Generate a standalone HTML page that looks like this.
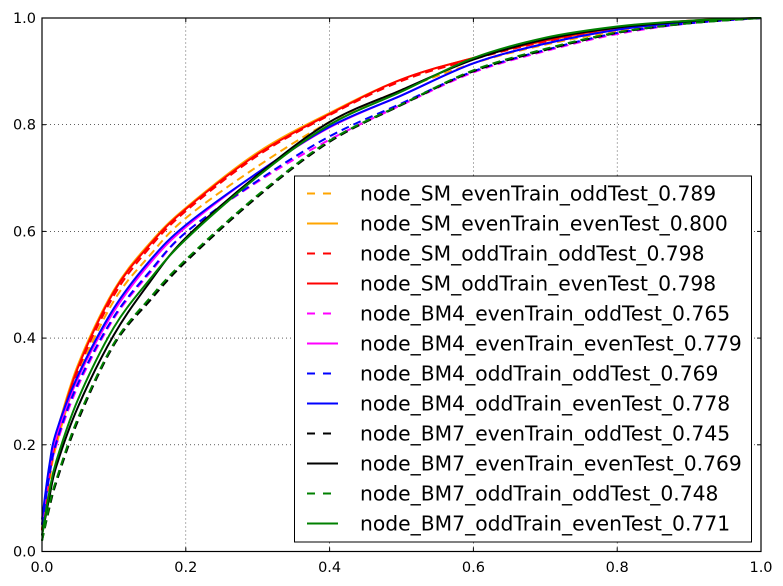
<!DOCTYPE html>
<html><head><meta charset="utf-8"><style>
html,body{margin:0;padding:0;background:#fff}
svg{display:block}
text{font-family:"DejaVu Sans","Liberation Sans",sans-serif}
</style></head><body>
<svg id="chart" width="783" height="586" viewBox="0 0 783 586" xmlns="http://www.w3.org/2000/svg">
<rect width="783" height="586" fill="#fff"/>
<g id="grid"></g>
<g id="series"></g>
<rect x="42" y="18" width="719" height="533.5" fill="none" stroke="#000" stroke-width="1.2"/>
<g id="ticks"></g>
<g id="legend"></g>
</svg>
<script>
const fprGrid = [0,0.01,0.02,0.05,0.1,0.15,0.2,0.3,0.4,0.5,0.6,0.7,0.8,0.9,1.0];
const seriesNames = [
 "node_SM_evenTrain_oddTest_0.789","node_SM_evenTrain_evenTest_0.800",
 "node_SM_oddTrain_oddTest_0.798","node_SM_oddTrain_evenTest_0.798",
 "node_BM4_evenTrain_oddTest_0.765","node_BM4_evenTrain_evenTest_0.779",
 "node_BM4_oddTrain_oddTest_0.769","node_BM4_oddTrain_evenTest_0.778",
 "node_BM7_evenTrain_oddTest_0.745","node_BM7_evenTrain_evenTest_0.769",
 "node_BM7_oddTrain_oddTest_0.748","node_BM7_oddTrain_evenTest_0.771"];
const seriesColors = ["orange","orange","red","red","magenta","magenta","blue","blue","black","black","green","green"];
const seriesDashed = [true,false,true,false,true,false,true,false,true,false,true,false];
const tprSMevenOdd  = [0.04,0.13,0.20,0.33,0.47,0.555,0.625,0.722,0.805,0.865,0.915,0.95,0.975,0.992,1];
const tprSMevenEven = [0.04,0.15,0.22,0.35,0.49,0.578,0.644,0.748,0.822,0.885,0.925,0.957,0.981,0.995,1];
const tprSModdOdd   = [0.04,0.14,0.21,0.34,0.48,0.57,0.638,0.742,0.818,0.882,0.923,0.956,0.98,0.994,1];
const tprSModdEven  = [0.04,0.15,0.215,0.345,0.487,0.575,0.642,0.745,0.82,0.885,0.925,0.958,0.982,0.995,1];
const tprBM4evenOdd = [0.05,0.14,0.20,0.31,0.437,0.522,0.598,0.693,0.772,0.837,0.898,0.938,0.97,0.99,1];
const tprBM4evenEven= [0.05,0.15,0.215,0.325,0.45,0.54,0.608,0.71,0.795,0.855,0.915,0.952,0.978,0.993,1];
const tprBM4oddOdd  = [0.05,0.14,0.205,0.315,0.44,0.525,0.598,0.695,0.778,0.84,0.90,0.94,0.972,0.99,1];
const tprBM4oddEven = [0.06,0.16,0.225,0.33,0.456,0.545,0.612,0.71,0.796,0.855,0.915,0.952,0.978,0.993,1];
const tprBM7evenOdd = [0.02,0.08,0.13,0.245,0.387,0.47,0.543,0.665,0.768,0.837,0.90,0.94,0.972,0.99,1];
const tprBM7evenEven= [0.03,0.10,0.16,0.271,0.406,0.505,0.588,0.706,0.805,0.865,0.922,0.96,0.982,0.994,1];
const tprBM7oddOdd  = [0.02,0.085,0.135,0.25,0.39,0.475,0.547,0.668,0.77,0.838,0.902,0.942,0.973,0.99,1];
const tprBM7oddEven = [0.03,0.11,0.17,0.285,0.42,0.51,0.585,0.703,0.80,0.862,0.925,0.963,0.984,0.995,1];
const tprSeries = [tprSMevenOdd,tprSMevenEven,tprSModdOdd,tprSModdEven,tprBM4evenOdd,tprBM4evenEven,tprBM4oddOdd,tprBM4oddEven,tprBM7evenOdd,tprBM7evenEven,tprBM7oddOdd,tprBM7oddEven];
const tickValues = [0,0.2,0.4,0.6,0.8,1.0];
const tickLabels = ["0.0","0.2","0.4","0.6","0.8","1.0"];

const NS="http://www.w3.org/2000/svg";
const X0=42,X1=761,Y0=551.5,Y1=18;
const xs=v=>X0+(X1-X0)*v, ys=v=>Y0-(Y0-Y1)*v;
function mk(tag,attrs,parent){const e=document.createElementNS(NS,tag);for(const k in attrs)e.setAttribute(k,attrs[k]);parent.appendChild(e);return e;}
function smoothPath(pts){
  let d='M'+pts[0][0].toFixed(1)+','+pts[0][1].toFixed(1);
  for(let i=0;i<pts.length-1;i++){
    const p0=pts[Math.max(0,i-1)],p1=pts[i],p2=pts[i+1],p3=pts[Math.min(pts.length-1,i+2)];
    const c1=[p1[0]+(p2[0]-p0[0])/6,p1[1]+(p2[1]-p0[1])/6];
    const c2=[p2[0]-(p3[0]-p1[0])/6,p2[1]-(p3[1]-p1[1])/6];
    d+='C'+c1[0].toFixed(1)+','+c1[1].toFixed(1)+' '+c2[0].toFixed(1)+','+c2[1].toFixed(1)+' '+p2[0].toFixed(1)+','+p2[1].toFixed(1);
  }
  return d;
}
const grid=document.getElementById('grid'),ticks=document.getElementById('ticks'),ser=document.getElementById('series'),leg=document.getElementById('legend');
tickValues.forEach((v,i)=>{
  if(i>0&&i<tickValues.length-1){
    const gx=mk('line',{x1:xs(v),x2:xs(v),y1:Y0,y2:Y1,stroke:'#000','stroke-width':0.6,'stroke-dasharray':'1,3'},grid);
    
    
    const gy=mk('line',{x1:X0,x2:X1,y1:ys(v),y2:ys(v),stroke:'#000','stroke-width':0.6,'stroke-dasharray':'1,3'},grid);
    
    
  }
  [[xs(v),Y0,xs(v),Y0-4],[xs(v),Y1,xs(v),Y1+4],[X0,ys(v),X0+4,ys(v)],[X1,ys(v),X1-4,ys(v)]].forEach(c=>{
    const t=mk('line',{x1:c[0],y1:c[1],x2:c[2],y2:c[3],stroke:'#000','stroke-width':1},ticks);
    
    
  });
  const tx=mk('text',{x:xs(v),y:572,'font-size':14.5,'text-anchor':'middle'},ticks);tx.textContent=tickLabels[i];
  
  
  const ty=mk('text',{x:36,y:ys(v)+5,'font-size':14.5,'text-anchor':'end'},ticks);ty.textContent=tickLabels[i];
  
  
});
tprSeries.forEach((arr,i)=>{
  const pts=arr.map((t,j)=>[xs(fprGrid[j]),ys(t)]);
  const a={d:smoothPath(pts),fill:'none',stroke:seriesColors[i],'stroke-width':2,'stroke-linejoin':'round'};
  if(seriesDashed[i])a['stroke-dasharray']='8,5';
  const p=mk('path',a,ser);
  
  
});
const lb=mk('rect',{x:294.5,y:176,width:457,height:366,fill:'#fff',stroke:'#000','stroke-width':1},leg);


seriesNames.forEach((n,i)=>{
  const y=193.5+i*30;
  const g=mk('g',{},leg);
  
  
  const a={x1:307,x2:338,y1:y,y2:y,stroke:seriesColors[i],'stroke-width':2};
  if(seriesDashed[i])a['stroke-dasharray']='8,8';
  mk('line',a,g);
  const t=mk('text',{x:360,y:y+7,'font-size':20.3},g);t.textContent=n;
});
</script>
</body></html>
